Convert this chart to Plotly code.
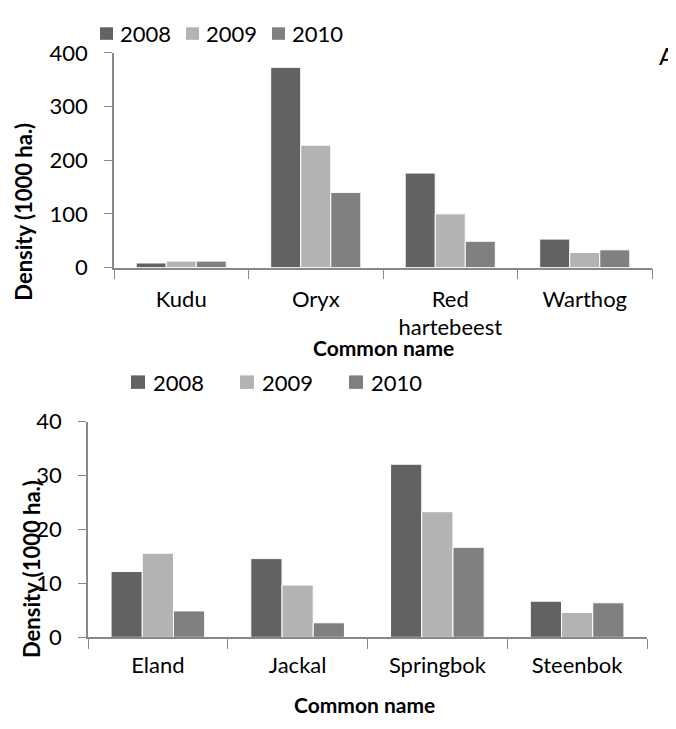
import plotly.graph_objects as go

years = ["2008", "2009", "2010"]
colors = ["#626262", "#b3b3b3", "#808080"]

cats_a = ["Kudu", "Oryx", "Red<br>hartebeest", "Warthog"]
a_2008 = [8.5, 373, 176, 53]
a_2009 = [12, 228, 100, 28]
a_2010 = [12, 140, 49, 33]

cats_b = ["Eland", "Jackal", "Springbok", "Steenbok"]
b_2008 = [12.2, 14.6, 32.1, 6.7]
b_2009 = [15.6, 9.7, 23.3, 4.6]
b_2010 = [4.9, 2.7, 16.7, 6.4]

W, H = 676, 729
OFF = 8  # page body margin
FONT = "Lato, 'Open Sans', sans-serif"

fig = go.Figure()
for yr, col, vals in zip(years, colors, [a_2008, a_2009, a_2010]):
    fig.add_trace(go.Bar(x=cats_a, y=vals, name=yr, marker=dict(color=col, line=dict(color="white", width=1)),
                         xaxis="x", yaxis="y", showlegend=False))
for yr, col, vals in zip(years, colors, [b_2008, b_2009, b_2010]):
    fig.add_trace(go.Bar(x=cats_b, y=vals, name=yr, marker=dict(color=col, line=dict(color="white", width=1)),
                         xaxis="x2", yaxis="y2", showlegend=False))

def px(v):
    return (v - OFF) / W
def py(v):
    return 1 - (v - OFF) / H

line_style = dict(showline=True, linecolor="#888888", linewidth=1.5, showgrid=False, zeroline=False,
                  ticks="outside", tickcolor="#888888")
ytick = dict(family=FONT, size=22, color="black")
xtick = dict(family=FONT, size=22, color="black")

fig.update_layout(
    width=W, height=H, margin=dict(l=0, r=0, t=0, b=0),
    paper_bgcolor="white", plot_bgcolor="white",
    barmode="group", bargap=0.33, bargroupgap=0,
    font=dict(family=FONT, color="black"),
    xaxis=dict(domain=[px(114), px(652)], anchor="y", tickson="boundaries", ticklen=10, tickfont=xtick,
               ticklabelstandoff=11, **line_style),
    yaxis=dict(domain=[py(263), py(40)], anchor="x", range=[0, 400], dtick=100, ticklen=8, tickfont=ytick,
               ticklabelstandoff=12, **line_style),
    xaxis2=dict(domain=[px(88), px(647)], anchor="y2", tickson="boundaries", ticklen=10, tickfont=xtick,
                ticklabelstandoff=8, **line_style),
    yaxis2=dict(domain=[py(647), py(423)], anchor="x2", range=[0, 40], dtick=10, ticklen=8, tickfont=ytick,
                ticklabelstandoff=12, **line_style),
)

shapes = []
ann = []

def add_legend(sq_x, txt_x, yc, size=13):
    for yr, col, sx, tx in zip(years, colors, sq_x, txt_x):
        shapes.append(dict(type="rect", xref="paper", yref="paper", x0=px(sx), x1=px(sx + size),
                           y0=py(yc + size / 2), y1=py(yc - size / 2), fillcolor=col, line=dict(width=0)))
        ann.append(dict(x=px(tx), y=py(yc), xref="paper", yref="paper", xanchor="left", yanchor="middle",
                        text=yr, showarrow=False, font=dict(family=FONT, size=22, color="black")))

add_legend([100, 186, 272], [118, 204, 290], 20)
add_legend([131, 240, 349], [151, 260, 369], 382, size=14)

ann.append(dict(x=px(24), y=py(205), xref="paper", yref="paper", xanchor="center", yanchor="middle",
                text="<b>Density (1000 ha.)</b>", textangle=-90, showarrow=False,
                font=dict(family=FONT, size=22, color="black")))
ann.append(dict(x=px(32), y=py(576), xref="paper", yref="paper", xanchor="center", yanchor="middle",
                text="<b>Density (1000 ha.)</b>", textangle=-90, showarrow=False,
                font=dict(family=FONT, size=22, color="black")))
ann.append(dict(x=px(383), y=py(346), xref="paper", yref="paper", xanchor="center", yanchor="middle",
                text="<b>Common name</b>", showarrow=False, font=dict(family=FONT, size=21, color="black")))
ann.append(dict(x=px(364), y=py(717), xref="paper", yref="paper", xanchor="center", yanchor="middle",
                text="<b>Common name</b>", showarrow=False, font=dict(family=FONT, size=21, color="black")))
ann.append(dict(x=px(657), y=py(43), xref="paper", yref="paper", xanchor="left", yanchor="middle",
                text="A", showarrow=False, font=dict(family=FONT, size=24, color="black")))
ann.append(dict(x=px(668), y=py(431), xref="paper", yref="paper", xanchor="left", yanchor="middle",
                text="B", showarrow=False, font=dict(family=FONT, size=24, color="black")))
fig.update_layout(annotations=ann, shapes=shapes)

fig.write_html("out.html")
